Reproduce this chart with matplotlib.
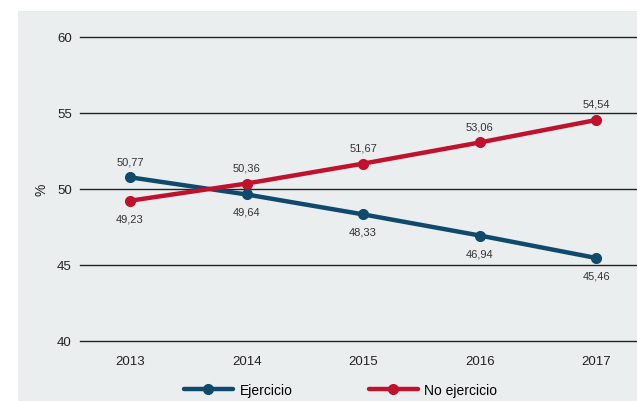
import matplotlib.pyplot as plt
from matplotlib.patches import Rectangle

years = ["2013", "2014", "2015", "2016", "2017"]
ejercicio = [50.77, 49.64, 48.33, 46.94, 45.46]
no_ejercicio = [49.23, 50.36, 51.67, 53.06, 54.54]
yticks = [40, 45, 50, 55, 60]

BLUE = "#0f4a6c"
RED = "#c0122c"
BG = "#ebeeef"

plt.rcParams["font.family"] = ["Liberation Sans", "DejaVu Sans"]

fig = plt.figure(figsize=(6.37, 4.02), dpi=100)
fig.patches.append(Rectangle((18 / 637, 0), 1, 1 - 12 / 402, transform=fig.transFigure,
                             facecolor=BG, edgecolor="none", zorder=-1))

ax = fig.add_axes([80 / 637, 1 - 342 / 402, 1 - 80 / 637, (342 - 38) / 402])
ax.set_facecolor("none")

# horizontal reference lines, not clipped so the 40 and 60 lines stay full
for yv in yticks:
    ax.axhline(yv, color="#222222", lw=1.0, clip_on=False, zorder=1)

x = list(range(len(years)))
ax.plot(x, ejercicio, color=BLUE, lw=3.2, marker="o", ms=7, label="Ejercicio",
        solid_capstyle="round", zorder=3)
ax.plot(x, no_ejercicio, color=RED, lw=3.2, marker="o", ms=7, label="No ejercicio",
        solid_capstyle="round", zorder=3)

def fmt(v):
    return f"{v:.2f}".replace(".", ",")

for i, (a, b) in enumerate(zip(ejercicio, no_ejercicio)):
    a_up = a > b
    ax.annotate(fmt(a), (i, a), xytext=(0, 8 if a_up else -9), textcoords="offset points",
                ha="center", va="bottom" if a_up else "top", fontsize=8, color="#333333")
    ax.annotate(fmt(b), (i, b), xytext=(0, 8 if not a_up else -9), textcoords="offset points",
                ha="center", va="bottom" if not a_up else "top", fontsize=8, color="#333333")

ax.set_xlim(-0.43, 4.35)
ax.set_ylim(40, 60)
ax.set_yticks(yticks)
ax.set_xticks(x)
ax.set_xticklabels(years)
for s in ax.spines.values():
    s.set_visible(False)
ax.tick_params(axis="both", length=0, labelsize=9.5, colors="#222222")
ax.tick_params(axis="y", pad=6)
ax.tick_params(axis="x", pad=10)
ax.set_ylabel("%", fontsize=10, color="#222222", labelpad=6)

fig.legend(loc="lower center", bbox_to_anchor=(0.535, -0.02), ncol=2, frameon=False,
           fontsize=10, handlelength=3.5, columnspacing=5.5, handletextpad=0.5)

fig.savefig("out.png", dpi=100)
